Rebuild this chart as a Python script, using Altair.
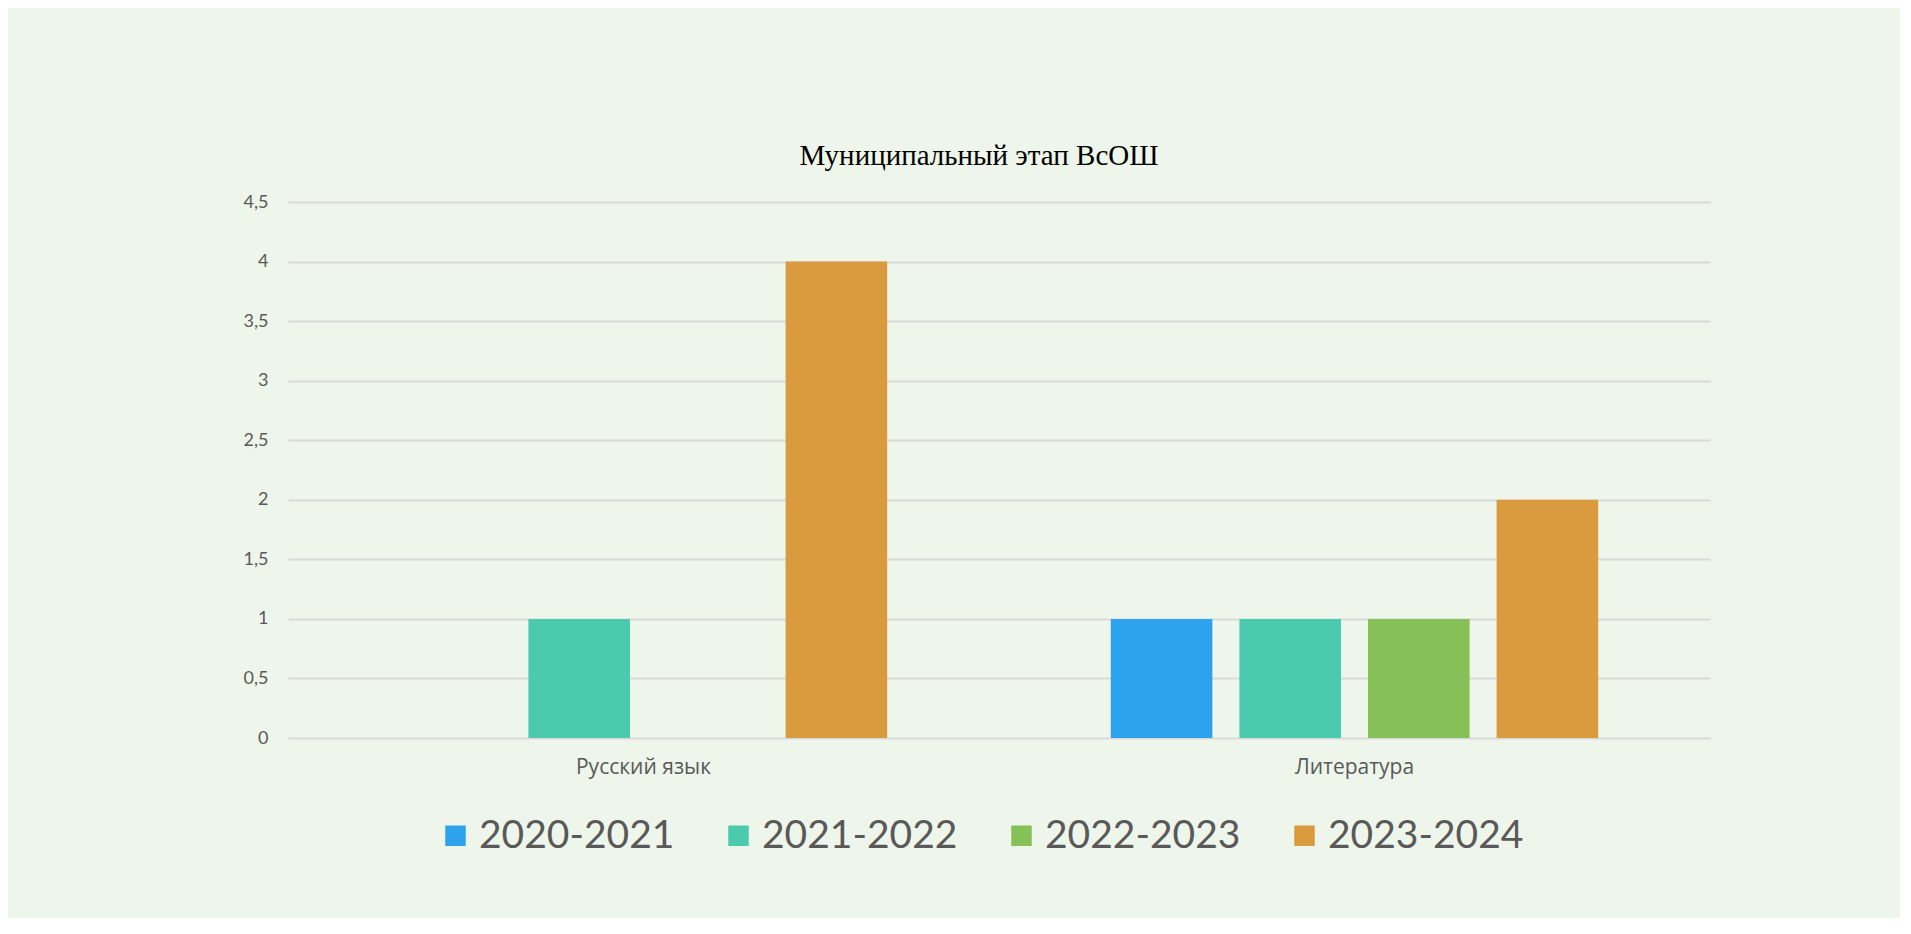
import altair as alt
import pandas as pd

subjects = ["Русский язык", "Литература"]
years = ["2020-2021", "2021-2022", "2022-2023", "2023-2024"]
v_2020_2021 = [0, 1]
v_2021_2022 = [1, 1]
v_2022_2023 = [0, 1]
v_2023_2024 = [4, 2]
colors = ["#2ea3ed", "#4bcaad", "#86c157", "#d99b3e"]
y_ticks = [0, 0.5, 1, 1.5, 2, 2.5, 3, 3.5, 4, 4.5]

series = [v_2020_2021, v_2021_2022, v_2022_2023, v_2023_2024]
rows = []
for yr, vals in zip(years, series):
    for s, v in zip(subjects, vals):
        rows.append({"subject": s, "year": yr, "value": v})
df = pd.DataFrame(rows)

chart = alt.Chart(df).mark_bar().encode(
    x=alt.X("subject:N", sort=subjects,
            scale=alt.Scale(paddingInner=0.3145, paddingOuter=0.15725),
            axis=alt.Axis(title=None, labelAngle=0, domain=False, ticks=False,
                          labelFont="Open Sans", labelFontSize=21,
                          labelColor="#595959", labelPadding=18)),
    xOffset=alt.XOffset("year:N", sort=years,
                        scale=alt.Scale(paddingInner=0.21, paddingOuter=0)),
    y=alt.Y("value:Q", scale=alt.Scale(domain=[0, 4.5], nice=False),
            axis=alt.Axis(title=None, values=y_ticks, domain=False, ticks=False,
                          format="~g",
                          labelExpr="replace(datum.label, '.', ',')",
                          labelFont="Lato", labelFontSize=18,
                          labelColor="#595959", labelPadding=20,
                          gridColor="#d9d9d9", gridWidth=1.8)),
    color=alt.Color("year:N", sort=years,
                    scale=alt.Scale(domain=years, range=colors),
                    legend=alt.Legend(title=None, orient="none", legendX=148,
                                      legendY=614, direction="horizontal",
                                      columns=4, symbolType="square",
                                      symbolSize=420, symbolStrokeWidth=0,
                                      labelFont="Lato", labelFontSize=39,
                                      labelColor="#595959", labelOffset=4,
                                      columnPadding=44, gridAlign="all",
                                      labelLimit=400)),
).properties(
    width=1422,
    height=536,
    title=alt.TitleParams("Муниципальный этап ВсОШ", font="Liberation Serif",
                          fontSize=29, fontWeight="normal", color="#000000",
                          frame="group", anchor="middle", dx=-20, offset=22),
    padding={"left": 280, "top": 194, "right": 190, "bottom": 180},
    autosize=alt.AutoSizeParams(type="none"),
    background="#eef5ea",
).configure_view(stroke=None)

chart.save("out.html", embed_options={"renderer": "svg", "actions": False})
